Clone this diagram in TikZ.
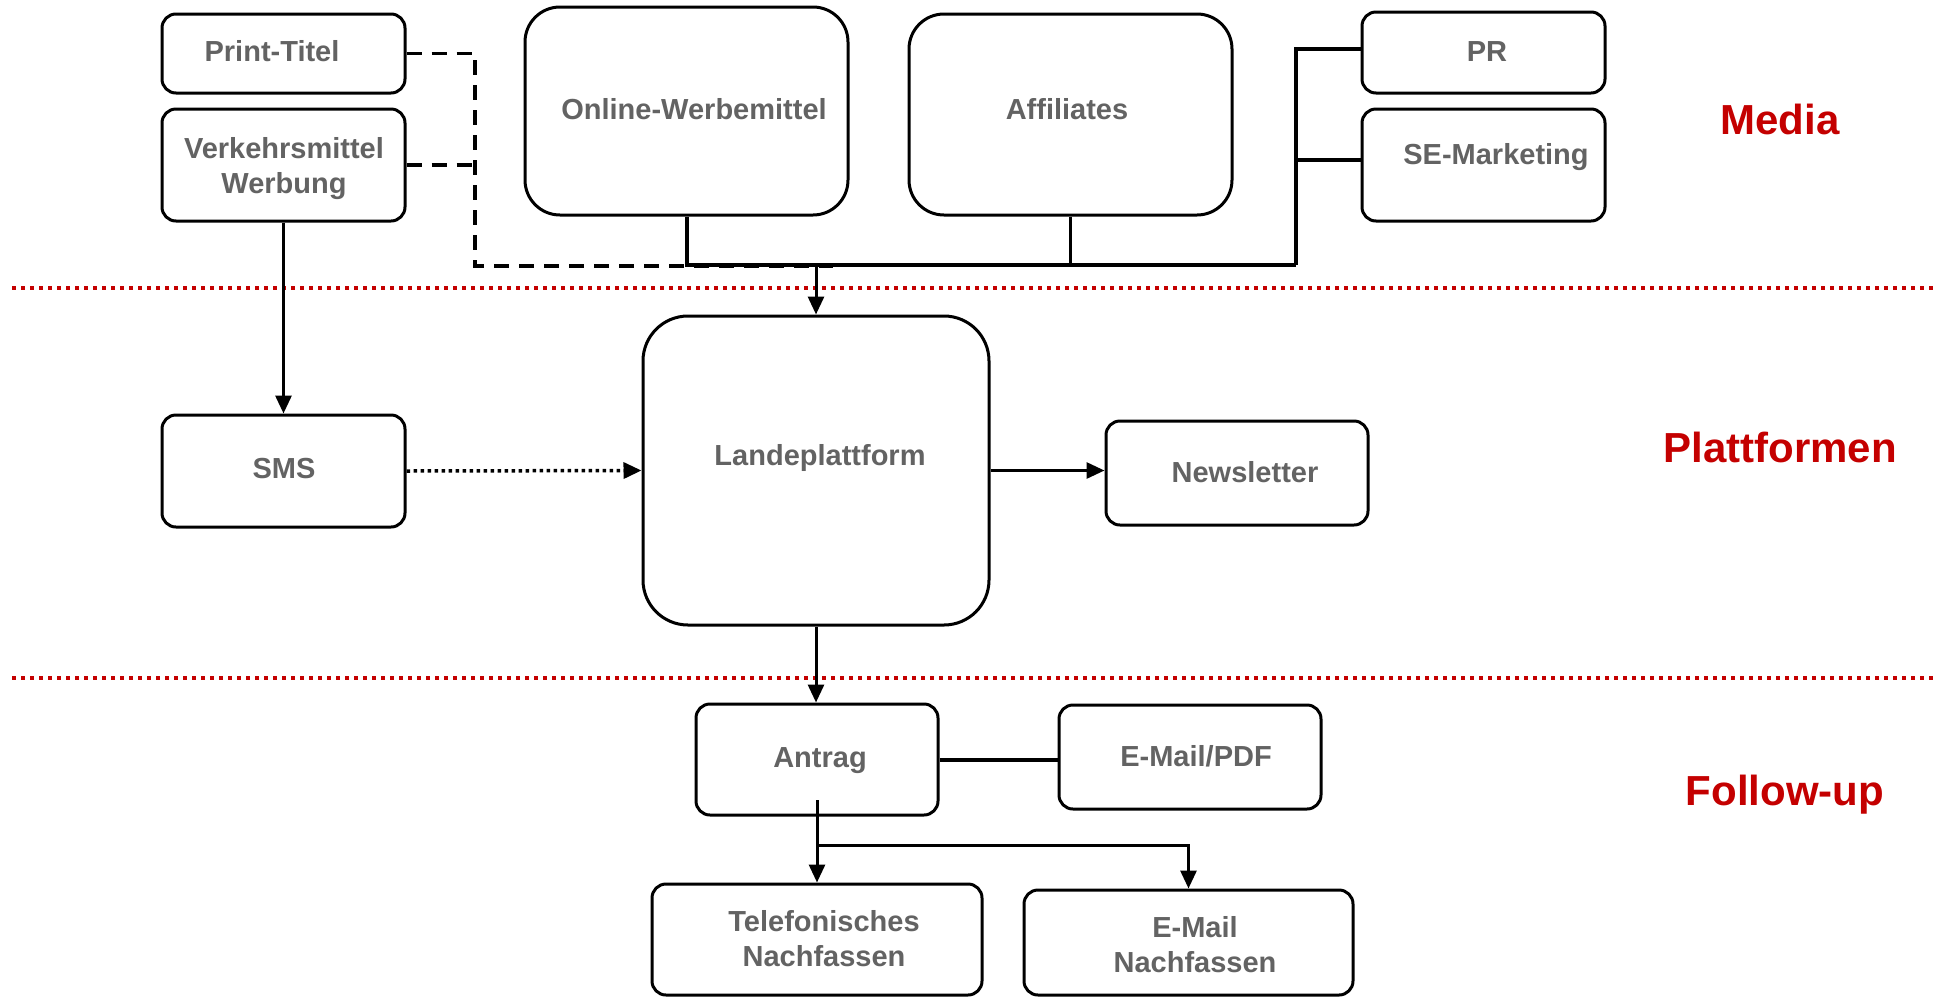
\documentclass[tikz,border=0pt]{standalone}
\usepackage{fontspec}
\setmainfont{Liberation Sans}
\usetikzlibrary{arrows.meta}
\definecolor{txtgray}{HTML}{636363}
\definecolor{mred}{HTML}{C40000}
\begin{document}
\begin{tikzpicture}[x=1pt,y=-1pt,
  box/.style={draw=black, line width=3pt, rounded corners=14pt, fill=white, inner sep=0pt},
  bigbox/.style={box, rounded corners=35pt},
  txt/.style={text=txtgray, font=\fontsize{29}{35}\selectfont\bfseries, align=center, inner sep=0pt},
  sect/.style={text=mred, font=\fontsize{42}{48}\selectfont\bfseries, inner sep=0pt},
  conn/.style={line width=3pt},
  bus/.style={line width=4pt},
  arr/.style={conn, -{Triangle[length=18pt,width=16pt]}},
  dashline/.style={line width=3.5pt, dash pattern=on 15pt off 10pt},
  dotarr/.style={line width=3.5pt, dash pattern=on 3.5pt off 3.5pt, -{Triangle[length=18pt,width=16pt]}},
  sep/.style={draw=mred, line width=4pt, dash pattern=on 4pt off 5pt}
]
\useasboundingbox (0,0) rectangle (1936,997);

% separators
\coordinate (s1a) at (12,288); \coordinate (s1b) at (1936,288);
\coordinate (s2a) at (12,678); \coordinate (s2b) at (1936,678);
\draw[sep] (s1a) -- (s1b);
\draw[sep] (s2a) -- (s2b);

% boxes
\node[box, minimum width=243pt, minimum height=79pt] (print) at (283.5,53.5) {};
\node[box, minimum width=243pt, minimum height=112pt] (verk) at (283.5,165) {};
\node[bigbox, minimum width=323pt, minimum height=208pt] (online) at (686.5,111) {};
\node[bigbox, minimum width=323pt, minimum height=201pt] (aff) at (1070.5,114.5) {};
\node[box, minimum width=243pt, minimum height=81pt] (pr) at (1483.5,52.5) {};
\node[box, minimum width=243pt, minimum height=112pt] (se) at (1483.5,165) {};
\node[box, rounded corners=45pt, minimum width=346pt, minimum height=309pt] (lp) at (816,470.5) {};
\node[box, minimum width=243pt, minimum height=112pt] (sms) at (283.5,471) {};
\node[box, minimum width=262pt, minimum height=104pt] (news) at (1237,473) {};
\node[box, minimum width=242pt, minimum height=111pt] (antrag) at (817,759.5) {};
\node[box, minimum width=262pt, minimum height=104pt] (pdf) at (1190,757) {};
\node[box, minimum width=330pt, minimum height=111pt] (tel) at (817,939.5) {};
\node[box, minimum width=329pt, minimum height=105pt] (emn) at (1188.5,942.5) {};

% texts
\node[txt] (tprint) at (272,51) {Print-Titel};
\node[txt] (tverk) at (284,169) {Verkehrsmittel\\Werbung};
\node[txt] (tonline) at (694,109) {Online-Werbemittel};
\node[txt] (taff) at (1067,109) {Affiliates};
\node[txt] (tpr) at (1487,52) {PR};
\node[txt] (tse) at (1496,157) {SE-Marketing};
\node[txt] (tlp) at (820,458) {Landeplattform};
\node[txt] (tsms) at (284,469) {SMS};
\node[txt] (tnews) at (1245,472) {Newsletter};
\node[txt] (tantrag) at (820,761) {Antrag};
\node[txt] (tpdf) at (1196,756) {E-Mail/PDF};
\node[txt] (ttel) at (824,939) {Telefonisches\\Nachfassen};
\node[txt] (temn) at (1195,945) {E-Mail\\Nachfassen};
\node[sect] (media) at (1780,119) {Media};
\node[sect] (platt) at (1780,447) {Plattformen};
\node[sect] (follow) at (1785,795) {Follow-up};

% dashed connectors
\coordinate (dj) at (475,266);
\coordinate (dend) at (833,266);
\draw[dashline] (print.east) -| (dj) -- (dend);
\draw[dashline] (verk.east) -- (verk.east -| dj);

% bus
\coordinate (busR) at (1296,265);
\coordinate (busTop) at (1296,49);
\coordinate (seJ) at (1296,160);
\draw[bus] (online.south) |- (busR);
\draw[conn] (aff.south) -- (aff.south |- busR);
\draw[bus] (busR) -- (busTop) -- (busTop -| pr.west);
\draw[bus] (seJ) -- (seJ -| se.west);

% arrows
\draw[arr] (lp.north |- busR) -- (lp.north);
\draw[arr] (verk.south) -- (sms.north);
\draw[dotarr] (sms.east) -- (lp.west);
\draw[arr] (lp.east) -- (lp.east -| news.west);
\draw[arr] (lp.south) -- (lp.south |- antrag.north);
\draw[bus] (antrag.east) -- (antrag.east -| pdf.west);
\coordinate (aIn) at (817,800);
\coordinate (br) at (817,845);
\draw[arr] (aIn) -- (aIn |- tel.north);
\draw[arr] (br) -| (emn.north);
\end{tikzpicture}
\end{document}
